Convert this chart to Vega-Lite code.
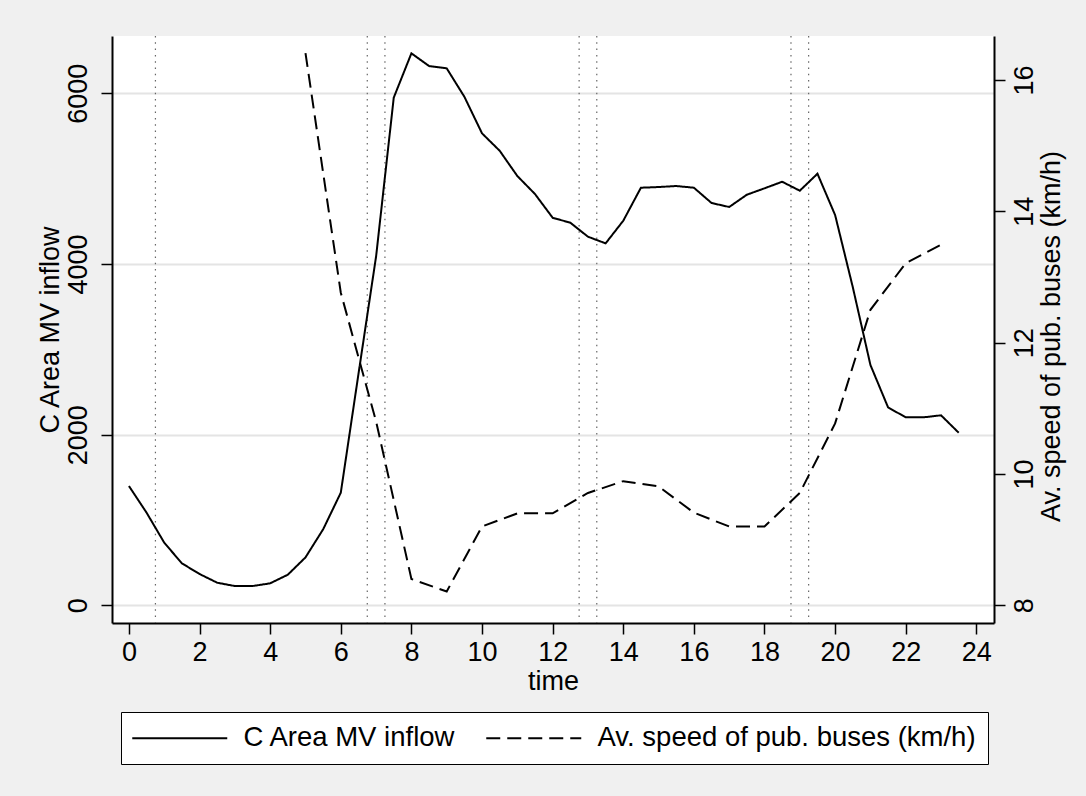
{
  "$schema": "https://vega.github.io/schema/vega-lite/v6.json",
  "width": 882,
  "height": 587,
  "autosize": "none",
  "padding": {"left": 112, "top": 36, "right": 92, "bottom": 173},
  "background": "#f0f0f0",
  "config": {
    "view": {"fill": "white", "stroke": null},
    "font": "Liberation Sans",
    "axis": {
      "labelFont": "Liberation Sans", "titleFont": "Liberation Sans",
      "labelFontSize": 27, "titleFontSize": 27,
      "labelColor": "black", "titleColor": "black", "titleFontWeight": "normal",
      "domainColor": "black", "domainWidth": 2,
      "tickColor": "black", "tickWidth": 1.5, "tickSize": 11,
      "grid": false
    },
    "legend": {
      "orient": "none", "legendX": 9, "legendY": 676,
      "direction": "horizontal",
      "symbolType": "M-4.75,0H4.75", "symbolSize": 400,
      "symbolStrokeWidth": 2, "symbolStrokeColor": "black",
      "symbolOffset": 33, "labelOffset": 50,
      "labelFont": "Liberation Sans", "labelFontSize": 27.5, "labelColor": "black",
      "labelLimit": 0,
      "columnPadding": 26, "padding": 12,
      "strokeColor": "black", "fillColor": "white"
    }
  },
  "datasets": {
    "xlines": [{"t": 0.75}, {"t": 6.75}, {"t": 7.25}, {"t": 12.75}, {"t": 13.25}, {"t": 18.75}, {"t": 19.25}],
    "main": [
      {"t": 0, "v": 1398, "series": "C Area MV inflow"},
      {"t": 0.5, "v": 1085, "series": "C Area MV inflow"},
      {"t": 1, "v": 734, "series": "C Area MV inflow"},
      {"t": 1.5, "v": 492, "series": "C Area MV inflow"},
      {"t": 2, "v": 367, "series": "C Area MV inflow"},
      {"t": 2.5, "v": 265, "series": "C Area MV inflow"},
      {"t": 3, "v": 226, "series": "C Area MV inflow"},
      {"t": 3.5, "v": 226, "series": "C Area MV inflow"},
      {"t": 4, "v": 258, "series": "C Area MV inflow"},
      {"t": 4.5, "v": 359, "series": "C Area MV inflow"},
      {"t": 5, "v": 562, "series": "C Area MV inflow"},
      {"t": 5.5, "v": 891, "series": "C Area MV inflow"},
      {"t": 6, "v": 1320, "series": "C Area MV inflow"},
      {"t": 6.5, "v": 2710, "series": "C Area MV inflow"},
      {"t": 7, "v": 4090, "series": "C Area MV inflow"},
      {"t": 7.5, "v": 5950, "series": "C Area MV inflow"},
      {"t": 8, "v": 6469, "series": "C Area MV inflow"},
      {"t": 8.5, "v": 6320, "series": "C Area MV inflow"},
      {"t": 9, "v": 6293, "series": "C Area MV inflow"},
      {"t": 9.5, "v": 5960, "series": "C Area MV inflow"},
      {"t": 10, "v": 5531, "series": "C Area MV inflow"},
      {"t": 10.5, "v": 5327, "series": "C Area MV inflow"},
      {"t": 11, "v": 5031, "series": "C Area MV inflow"},
      {"t": 11.5, "v": 4820, "series": "C Area MV inflow"},
      {"t": 12, "v": 4542, "series": "C Area MV inflow"},
      {"t": 12.5, "v": 4484, "series": "C Area MV inflow"},
      {"t": 13, "v": 4320, "series": "C Area MV inflow"},
      {"t": 13.5, "v": 4242, "series": "C Area MV inflow"},
      {"t": 14, "v": 4507, "series": "C Area MV inflow"},
      {"t": 14.5, "v": 4894, "series": "C Area MV inflow"},
      {"t": 15, "v": 4902, "series": "C Area MV inflow"},
      {"t": 15.5, "v": 4914, "series": "C Area MV inflow"},
      {"t": 16, "v": 4894, "series": "C Area MV inflow"},
      {"t": 16.5, "v": 4715, "series": "C Area MV inflow"},
      {"t": 17, "v": 4668, "series": "C Area MV inflow"},
      {"t": 17.5, "v": 4812, "series": "C Area MV inflow"},
      {"t": 18, "v": 4887, "series": "C Area MV inflow"},
      {"t": 18.5, "v": 4964, "series": "C Area MV inflow"},
      {"t": 19, "v": 4859, "series": "C Area MV inflow"},
      {"t": 19.5, "v": 5058, "series": "C Area MV inflow"},
      {"t": 20, "v": 4574, "series": "C Area MV inflow"},
      {"t": 20.5, "v": 3730, "series": "C Area MV inflow"},
      {"t": 21, "v": 2817, "series": "C Area MV inflow"},
      {"t": 21.5, "v": 2320, "series": "C Area MV inflow"},
      {"t": 22, "v": 2203, "series": "C Area MV inflow"},
      {"t": 22.5, "v": 2203, "series": "C Area MV inflow"},
      {"t": 23, "v": 2227, "series": "C Area MV inflow"},
      {"t": 23.5, "v": 2023, "series": "C Area MV inflow"},
      {"t": 5, "v": 16.41, "series": "Av. speed of pub. buses (km/h)"},
      {"t": 6, "v": 12.76, "series": "Av. speed of pub. buses (km/h)"},
      {"t": 7, "v": 10.8, "series": "Av. speed of pub. buses (km/h)"},
      {"t": 8, "v": 8.4, "series": "Av. speed of pub. buses (km/h)"},
      {"t": 9, "v": 8.21, "series": "Av. speed of pub. buses (km/h)"},
      {"t": 10, "v": 9.2, "series": "Av. speed of pub. buses (km/h)"},
      {"t": 11, "v": 9.4, "series": "Av. speed of pub. buses (km/h)"},
      {"t": 12, "v": 9.4, "series": "Av. speed of pub. buses (km/h)"},
      {"t": 13, "v": 9.71, "series": "Av. speed of pub. buses (km/h)"},
      {"t": 14, "v": 9.89, "series": "Av. speed of pub. buses (km/h)"},
      {"t": 15, "v": 9.81, "series": "Av. speed of pub. buses (km/h)"},
      {"t": 16, "v": 9.41, "series": "Av. speed of pub. buses (km/h)"},
      {"t": 17, "v": 9.2, "series": "Av. speed of pub. buses (km/h)"},
      {"t": 18, "v": 9.2, "series": "Av. speed of pub. buses (km/h)"},
      {"t": 19, "v": 9.71, "series": "Av. speed of pub. buses (km/h)"},
      {"t": 20, "v": 10.77, "series": "Av. speed of pub. buses (km/h)"},
      {"t": 21, "v": 12.5, "series": "Av. speed of pub. buses (km/h)"},
      {"t": 22, "v": 13.21, "series": "Av. speed of pub. buses (km/h)"},
      {"t": 23, "v": 13.49, "series": "Av. speed of pub. buses (km/h)"}
    ]
  },
  "layer": [
    {
      "data": {"name": "xlines"},
      "mark": {"type": "rule", "color": "#666666", "strokeWidth": 1.2, "strokeDash": [1.5, 4.8]},
      "encoding": {
        "x": {"field": "t", "type": "quantitative", "scale": {"domain": [-0.48, 24.5], "nice": false, "zero": false},
          "axis": {"values": [0, 2, 4, 6, 8, 10, 12, 14, 16, 18, 20, 22, 24], "title": "time", "labelPadding": 5, "titlePadding": 3, "labelFlush": false, "labelOverlap": false}}
      }
    },
    {
      "data": {"name": "main"},
      "transform": [{"filter": "datum.series === 'C Area MV inflow'"}],
      "mark": {"type": "line", "color": "black", "strokeWidth": 2},
      "encoding": {
        "x": {"field": "t", "type": "quantitative", "scale": {"domain": [-0.48, 24.5], "nice": false, "zero": false},
          "axis": {"values": [0, 2, 4, 6, 8, 10, 12, 14, 16, 18, 20, 22, 24], "title": "time", "labelPadding": 5, "titlePadding": 3, "labelFlush": false, "labelOverlap": false}},
        "y": {"field": "v", "type": "quantitative", "scale": {"domain": [-207, 6672], "nice": false, "zero": false},
          "axis": {"orient": "left", "values": [0, 2000, 4000, 6000], "format": "d", "grid": true, "gridColor": "#e4e4e4", "gridWidth": 2,
            "labelAngle": -90, "labelAlign": "center", "labelBaseline": "bottom", "labelPadding": 9,
            "title": "C Area MV inflow", "titlePadding": 0}},
        "strokeDash": {"field": "series", "type": "nominal",
          "scale": {"domain": ["C Area MV inflow", "Av. speed of pub. buses (km/h)"], "range": [[1, 0], [14, 7]]},
          "legend": {"title": null}}
      }
    },
    {
      "data": {"name": "main"},
      "transform": [{"filter": "datum.series !== 'C Area MV inflow'"}],
      "mark": {"type": "line", "color": "black", "strokeWidth": 2},
      "encoding": {
        "x": {"field": "t", "type": "quantitative", "scale": {"domain": [-0.48, 24.5], "nice": false, "zero": false},
          "axis": {"values": [0, 2, 4, 6, 8, 10, 12, 14, 16, 18, 20, 22, 24], "title": "time", "labelPadding": 5, "titlePadding": 3, "labelFlush": false, "labelOverlap": false}},
        "y": {"field": "v", "type": "quantitative", "scale": {"domain": [7.73, 16.67], "nice": false, "zero": false},
          "axis": {"orient": "right", "values": [8, 10, 12, 14, 16], "grid": false,
            "labelAngle": -90, "labelAlign": "center", "labelBaseline": "top", "labelPadding": 6,
            "title": "Av. speed of pub. buses (km/h)", "titleAngle": -90, "titleBaseline": "top", "titleAlign": "center",
            "titleX": 44, "titleY": 300}},
        "strokeDash": {"field": "series", "type": "nominal",
          "scale": {"domain": ["C Area MV inflow", "Av. speed of pub. buses (km/h)"], "range": [[1, 0], [14, 7]]},
          "legend": {"title": null}}
      }
    }
  ],
  "resolve": {"scale": {"y": "independent"}}
}
